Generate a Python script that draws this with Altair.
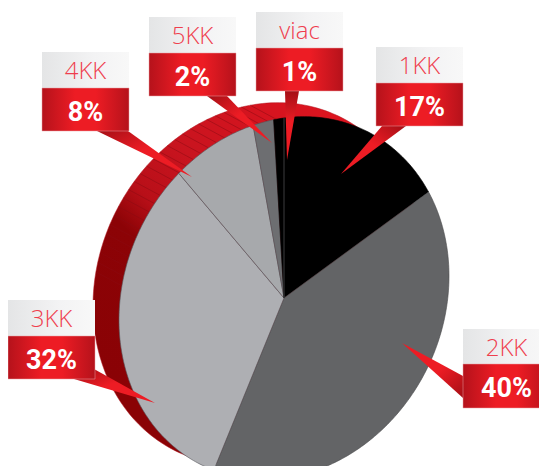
import math
import altair as alt
import pandas as pd

categories = ["1KK", "2KK", "3KK", "4KK", "5KK", "viac"]
shares = [17, 40, 32, 8, 2, 1]
labels = ["17%", "40%", "32%", "8%", "2%", "1%"]

slice_fill = ["#000000", "#636466", "#aeafb3", "#a7a9ac", "#6d6e71", "#000000"]
slice_edge = ["#000000", "#4a4a4c", "#55565a", "#55565a", "#55565a", "#000000"]
# box left, top, divider, bottom, right
boxes = [
    (376, 47, 83, 126, 463), (463, 329, 364, 408, 550), (8, 300, 336, 379, 95),
    (42, 52, 88, 131, 129), (149, 17, 53, 96, 236), (256, 12, 48, 91, 343),
]
pointers = [
    [(382, 126), (406, 126), (341, 174)], [(463, 376), (463, 398), (402, 343)],
    [(74, 379), (94, 369), (155, 403)], [(97, 131), (128, 131), (192, 177)],
    [(207, 96), (227, 96), (272, 143)], [(285, 91), (299, 91), (287, 160)],
]
pointer_dirs = [(1, 0, 0, 1), (1, 1, 0, 0), (0, 0, 1, 1), (0, 0, 1, 1), (0, 0, 1, 1), (0, 0, 0, 1)]

CX, CY = 284, 298
AX, SKEW, AY = 165, -22, 180


def pie_point(turn, dx=0, dy=0, grow=1.0):
    t = 2 * math.pi * turn
    return (CX + dx + grow * AX * math.sin(t),
            CY + dy + grow * (-AY * math.cos(t) + SKEW * math.sin(t)))


X = alt.X("x:Q", scale=alt.Scale(domain=[8, 539], nice=False, zero=False, padding=0), axis=None)
Y = alt.Y("y:Q", scale=alt.Scale(domain=[466, 8], nice=False, zero=False, padding=0), axis=None)


def polygon(pts, **mark):
    df = pd.DataFrame({"x": [p[0] for p in pts], "y": [p[1] for p in pts], "i": range(len(pts))})
    mark.setdefault("strokeWidth", 0)
    return alt.Chart(df).mark_line(interpolate="linear-closed", clip=True, **mark).encode(
        x=X, y=Y, order=alt.Order("i:Q"))


def segment(a, b, stroke, width):
    df = pd.DataFrame({"x": [a[0], b[0]], "y": [a[1], b[1]], "i": [0, 1]})
    return alt.Chart(df).mark_line(stroke=stroke, strokeWidth=width, clip=True).encode(
        x=X, y=Y, order=alt.Order("i:Q"))


def grad(stops, x1=0, y1=0, x2=1, y2=0):
    return alt.Gradient(gradient="linear", x1=x1, y1=y1, x2=x2, y2=y2,
                        stops=[alt.GradientStop(offset=o, color=c) for o, c in stops])


layers = []

# red rim behind the pie
rim = [pie_point(k / 240, dx=-26, dy=-14) for k in range(240)]
layers.append(polygon(rim, stroke="#b0121c", strokeWidth=0.5, fill=grad(
    [(0, "#e0141f"), (0.42, "#c8141f"), (0.58, "#b80f18"), (0.68, "#8c0306"), (1, "#8a0205")],
    x1=0.8, y1=0, x2=0.1, y2=0.8)))

# stripes on the rim
for k in range(26):
    turn = 0.78 + k * 0.0085
    layers.append(segment(pie_point(turn), pie_point(turn, dx=-26, dy=-14), "#8a0a12", 0.5))

# slices
total = sum(shares)
start = 0
for share, fill, edge in zip(shares, slice_fill, slice_edge):
    n = max(3, int(share * 4))
    arc = [pie_point((start + share * j / n) / total) for j in range(n + 1)]
    layers.append(polygon([(CX, CY)] + arc, fill=fill, stroke=edge, strokeWidth=0.6))
    start += share

# seam between viac and 1KK
layers.append(segment((CX, CY), pie_point(0), "#4d4d4f", 0.8))

RED = [(0, "#b5121b"), (0.38, "#ed1c24"), (0.62, "#ed1c24"), (1, "#b5121b")]
GREY = [(0, "#e4e5e6"), (0.6, "#f3f3f4"), (1, "#f8f8f8")]

for pts, d in zip(pointers, pointer_dirs):
    layers.append(polygon(pts, fill=grad([(0, "#a50f16"), (0.45, "#ed1c24"), (1, "#ed1c24")],
                                         x1=d[0], y1=d[1], x2=d[2], y2=d[3])))

for name, pct, (l, top, mid, bot, r) in zip(categories, labels, boxes):
    base = pd.DataFrame({"x": [l], "x2": [r], "y": [top], "y2": [mid]})
    layers.append(alt.Chart(base).mark_rect(fill=grad(GREY), clip=True).encode(
        x=X, x2="x2:Q", y=Y, y2="y2:Q"))
    base = pd.DataFrame({"x": [l], "x2": [r], "y": [mid], "y2": [bot]})
    layers.append(alt.Chart(base).mark_rect(fill=grad(RED), clip=True, stroke="#e8a0a4", strokeWidth=0.5).encode(
        x=X, x2="x2:Q", y=Y, y2="y2:Q"))
    cx = (l + r) / 2
    top_df = pd.DataFrame({"x": [cx], "y": [(top + mid) / 2 + 2], "t": [name]})
    layers.append(alt.Chart(top_df).mark_text(font="Open Sans", fontSize=24, fontWeight=300, color="#ef3e4e",
                                              align="center", baseline="middle", clip=True).encode(x=X, y=Y, text="t:N"))
    pct_df = pd.DataFrame({"x": [cx], "y": [(mid + bot) / 2 + 3], "t": [pct]})
    layers.append(alt.Chart(pct_df).mark_text(font="Roboto", fontSize=27, fontWeight="bold", color="#ffffff",
                                              align="center", baseline="middle", clip=True).encode(x=X, y=Y, text="t:N"))

chart = alt.layer(*layers).properties(
    width=531, height=458, padding=0, autosize=alt.AutoSizeParams(type="none"), background="#ffffff"
).configure_view(stroke=None)

chart.save("out.html", embed_options={"renderer": "svg", "actions": False})
